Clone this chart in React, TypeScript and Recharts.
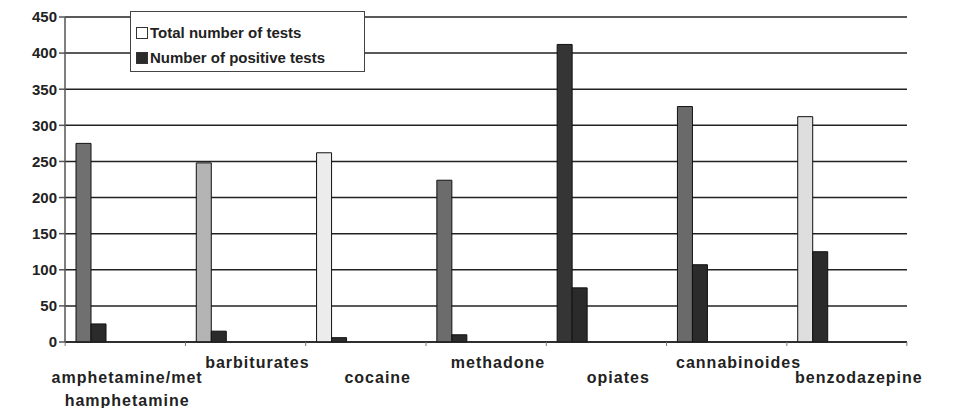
import React from 'react';
import { BarChart, Bar, XAxis, YAxis, CartesianGrid, Cell, Rectangle } from 'recharts';

const categories = [
  'amphetamine/methamphetamine',
  'barbiturates',
  'cocaine',
  'methadone',
  'opiates',
  'cannabinoides',
  'benzodazepine',
];
const totalTests = [275, 248, 262, 224, 412, 326, 312];
const positiveTests = [25, 15, 6, 10, 75, 107, 125];
const yTicks = [0, 50, 100, 150, 200, 250, 300, 350, 400, 450];

const totalColors = ['#707070', '#b4b4b4', '#ececec', '#6c6c6c', '#353535', '#6a6a6a', '#dedede'];
const positiveColor = '#2b2b2b';

const data = categories.map((name, i) => ({
  name,
  total: totalTests[i],
  positive: positiveTests[i],
}));

const FONT = '"Liberation Sans", Arial, sans-serif';
const HALF_BAND = 60;
// Excel-style: bars sit at the left of each category slot
const SHIFT = 34;

const ShiftedBar = (props: any) => <Rectangle {...props} x={props.x - SHIFT} />;

const CategoryTick = (props: any) => {
  const { x, y, payload, index } = props;
  const name: string = payload.value;
  const lines = name.length > 15 ? [name.slice(0, 15), name.slice(15)] : [name];
  const base = index % 2 === 1 ? 26 : 41;
  const dx = index === 0 ? 2 : 12;
  const last = index === categories.length - 1;
  return (
    <g>
      <line x1={x - HALF_BAND} y1={y} x2={x - HALF_BAND} y2={y + 4} stroke="#777" />
      {last && <line x1={x + HALF_BAND} y1={y} x2={x + HALF_BAND} y2={y + 4} stroke="#777" />}
      <text
        x={x + dx}
        y={y + base}
        textAnchor="middle"
        fontFamily={FONT}
        fontWeight="bold"
        fontSize={16}
        letterSpacing={1}
        fill="#222"
      >
        {lines.map((l, k) => (
          <tspan key={k} x={x + dx} dy={k === 0 ? 0 : 23}>
            {l}
          </tspan>
        ))}
      </text>
    </g>
  );
};

const legendItems = [
  { label: 'Total number of tests', color: '#fff' },
  { label: 'Number of positive tests', color: positiveColor },
];

const LegendBox = () => (
  <div
    style={{
      position: 'absolute',
      left: 122,
      top: 3,
      width: 233,
      height: 59,
      border: '1px solid #444',
      background: '#fff',
      fontFamily: FONT,
      fontWeight: 'bold',
      fontSize: 15,
      color: '#222',
    }}
  >
    {legendItems.map((it, k) => (
      <div key={k} style={{ display: 'flex', alignItems: 'center', height: 25, marginTop: k === 0 ? 8 : 0 }}>
        <span
          style={{
            display: 'inline-block',
            width: 10,
            height: 10,
            marginLeft: 5,
            marginRight: 2,
            border: '1px solid #333',
            background: it.color,
          }}
        />
        <span>{it.label}</span>
      </div>
    ))}
  </div>
);

export default function App() {
  return (
    <div style={{ width: 965, height: 400, position: 'relative' }}>
      <BarChart
        width={965}
        height={400}
        data={data}
        margin={{ top: 9, right: 66, bottom: 36, left: 0 }}
        barGap={0}
        barSize={15}
      >
        <CartesianGrid vertical={false} stroke="#222" strokeWidth={1.5} />
        <XAxis
          dataKey="name"
          stroke="#222"
          strokeWidth={1.5}
          tickLine={false}
          tickSize={0}
          tickMargin={0}
          interval={0}
          tick={<CategoryTick />}
        />
        <YAxis
          width={57}
          domain={[0, 450]}
          ticks={yTicks}
          interval={0}
          stroke="#555"
          strokeWidth={1.5}
          tickSize={6}
          tickMargin={2}
          tick={{ fontFamily: FONT, fontWeight: 'bold', fontSize: 15, fill: '#222' }}
        />
        <Bar dataKey="total" name="Total number of tests" stroke="#111" strokeWidth={1} shape={ShiftedBar} isAnimationActive={false}>
          {data.map((_, i) => (
            <Cell key={i} fill={totalColors[i]} />
          ))}
        </Bar>
        <Bar
          dataKey="positive"
          name="Number of positive tests"
          fill={positiveColor}
          stroke="#111"
          strokeWidth={1}
          shape={ShiftedBar}
          isAnimationActive={false}
        />
      </BarChart>
      <LegendBox />
    </div>
  );
}
